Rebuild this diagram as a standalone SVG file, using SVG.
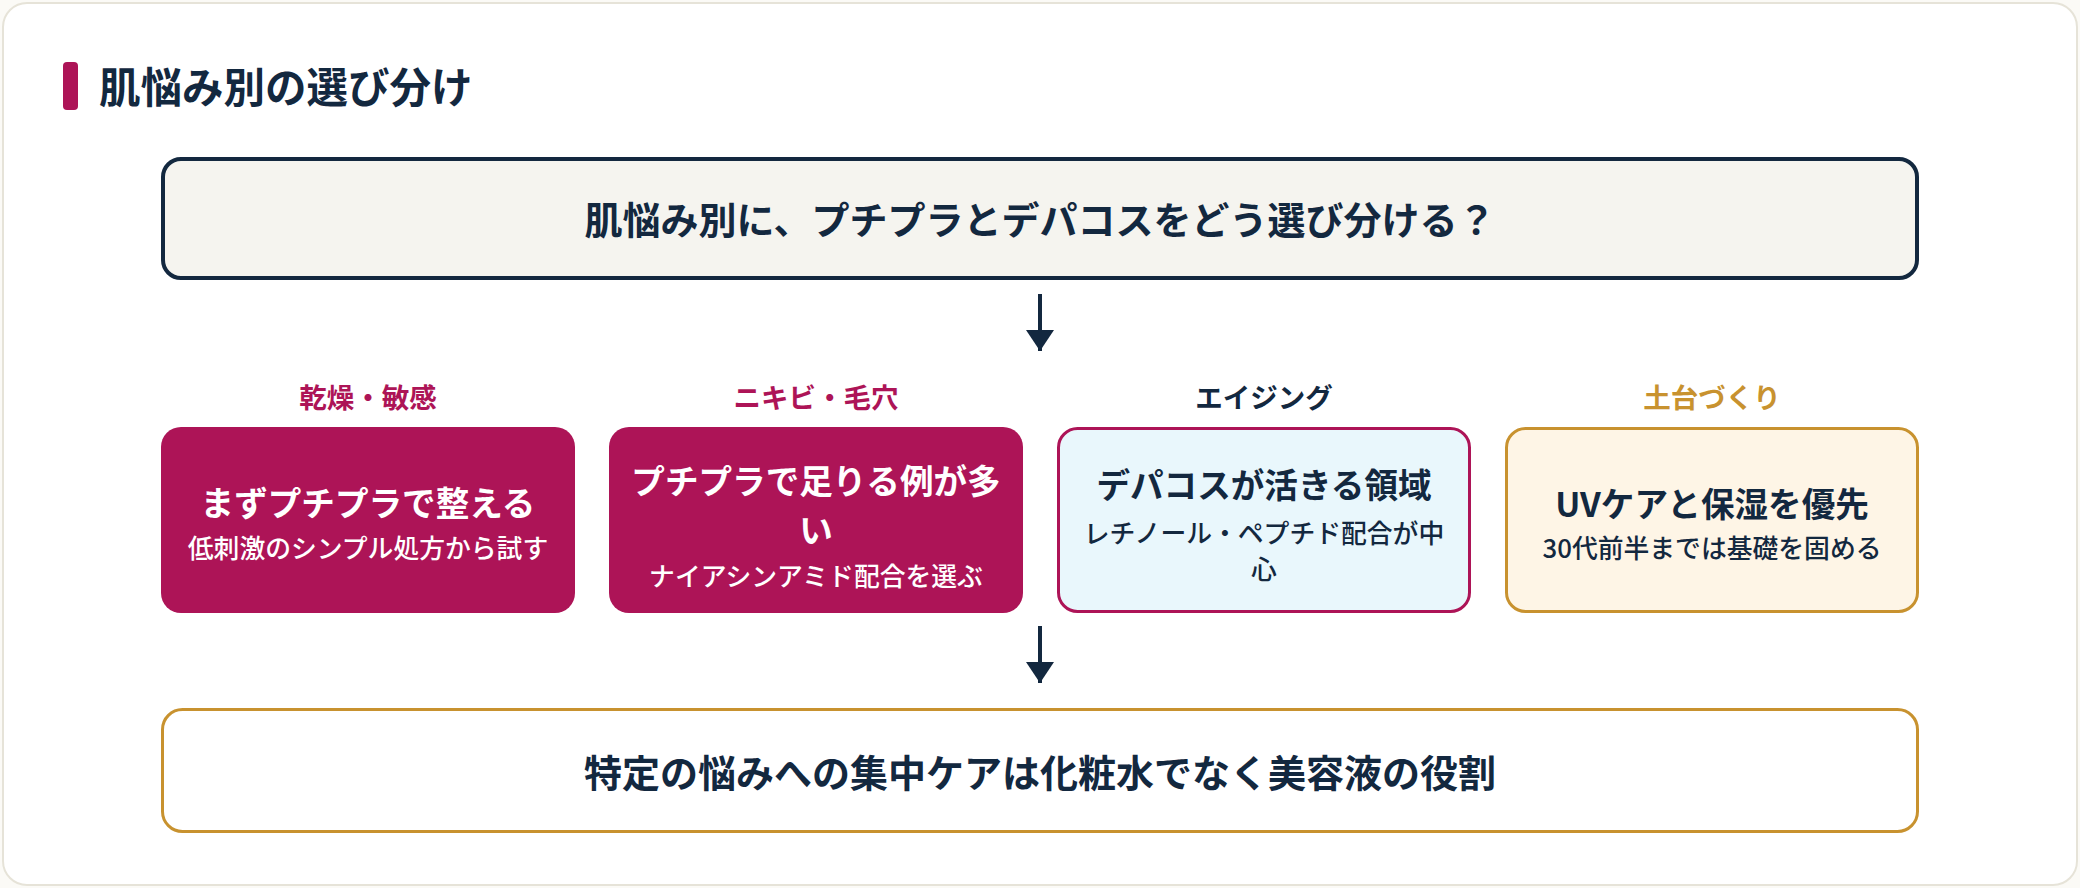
<svg xmlns="http://www.w3.org/2000/svg" width="2080" height="888" viewBox="0 0 2080 888">
<style>
text{font-family:"Noto Sans CJK JP","Noto Sans",sans-serif;font-weight:700;text-anchor:middle}
.navy{fill:#13283f}
.crim{fill:#ad1457}
.gold{fill:#c8922f}
.white{fill:#ffffff}
.main{font-size:33.6px}
.sub{font-size:25.8px;font-weight:500}
.cat{font-size:27.5px}
.big{font-size:38px}
.conn line{stroke:#13283f;stroke-width:4}
</style>
<defs>
<marker id="ah" markerWidth="5.25" markerHeight="7" refX="5.25" refY="3.5" orient="auto" markerUnits="strokeWidth">
<path d="M0,0 L5.25,3.5 L0,7 Z" fill="#13283f"/>
</marker>
</defs>
<rect x="0" y="0" width="2080" height="888" fill="#fbfaf6"/>
<rect x="3" y="3" width="2074" height="882" rx="24" fill="#ffffff" stroke="#e6e3d8" stroke-width="2"/>
<g id="title">
<rect x="63" y="62" width="15" height="48" rx="4" fill="#ad1457"/>
<text x="99" y="103" class="navy" style="font-size:41.5px;text-anchor:start">肌悩み別の選び分け</text>
</g>
<g id="question">
<rect x="163" y="159" width="1754" height="119" rx="18" fill="#f5f4ef" stroke="#13283f" stroke-width="4"/>
<text x="1040" y="234" class="navy big">肌悩み別に、プチプラとデパコスをどう選び分ける？</text>
</g>
<g class="conn" id="connectors">
<line x1="1040" y1="294" x2="1040" y2="351" marker-end="url(#ah)"/>
<line x1="1040" y1="626" x2="1040" y2="683" marker-end="url(#ah)"/>
</g>
<g id="dry">
<text x="368" y="408" class="crim cat">乾燥・敏感</text>
<rect x="161" y="427" width="414" height="186" rx="20" fill="#ad1457"/>
<text x="368" y="516" class="white main">まずプチプラで整える</text>
<text x="368" y="558" class="white sub">低刺激のシンプル処方から試す</text>
</g>
<g id="acne">
<text x="816" y="408" class="crim cat">ニキビ・毛穴</text>
<rect x="609" y="427" width="414" height="186" rx="20" fill="#ad1457"/>
<text x="816" y="494" class="white main">プチプラで足りる例が多</text>
<text x="816" y="543" class="white main">い</text>
<text x="816" y="586" class="white sub">ナイアシンアミド配合を選ぶ</text>
</g>
<g id="aging">
<text x="1264" y="408" class="navy cat">エイジング</text>
<rect x="1058.5" y="428.5" width="411" height="183" rx="19" fill="#e9f7fc" stroke="#ad1457" stroke-width="3"/>
<text x="1264" y="498" class="navy main">デパコスが活きる領域</text>
<text x="1264" y="543" class="navy sub">レチノール・ペプチド配合が中</text>
<text x="1264" y="579" class="navy sub">心</text>
</g>
<g id="base">
<text x="1712" y="408" class="gold cat">土台づくり</text>
<rect x="1506.5" y="428.5" width="411" height="183" rx="19" fill="#fef5e6" stroke="#c8922f" stroke-width="3"/>
<text x="1712" y="517" class="navy main">UVケアと保湿を優先</text>
<text x="1712" y="558" class="navy sub">30代前半までは基礎を固める</text>
</g>
<g id="conclusion">
<rect x="162.5" y="709.5" width="1755" height="122" rx="20" fill="#ffffff" stroke="#c8922f" stroke-width="3"/>
<text x="1040" y="787" class="navy big">特定の悩みへの集中ケアは化粧水でなく美容液の役割</text>
</g>
</svg>
